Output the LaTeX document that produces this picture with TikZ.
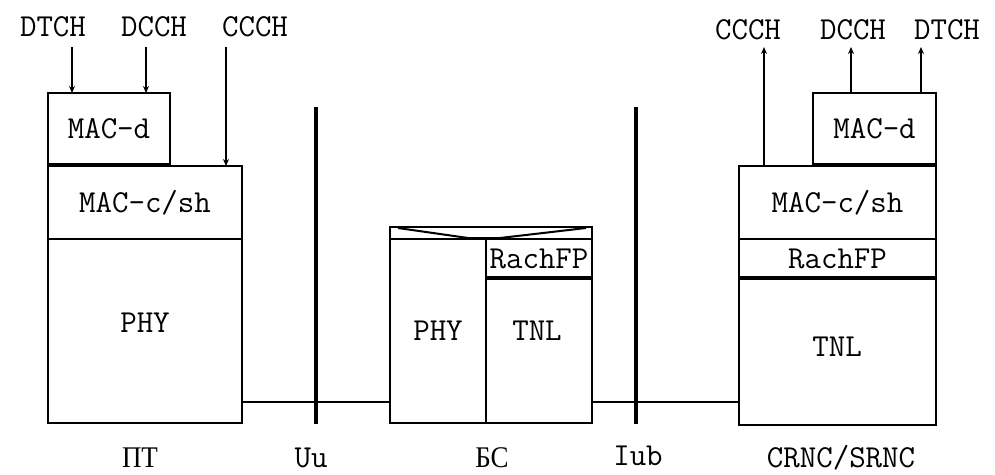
\documentclass[tikz,border=0pt]{standalone}
\usepackage{fontspec}
\newfontfamily\cyrfont[FakeStretch=0.9]{Liberation Serif}
\usetikzlibrary{arrows.meta}
\tikzset{
    layer/.style={draw, line width=1.5pt, inner sep=0pt, outer sep=0pt, font=\ttfamily\fontsize{32}{32}\selectfont}, % one protocol layer
    sep line/.style={line width=3.5pt}, % thick border between layers
    iface/.style={line width=4pt}, % interface bar
    link/.style={line width=1.5pt},
    chan/.style={line width=1.5pt, -{Stealth[length=7pt, width=6pt]}},
    lbl/.style={font=\ttfamily\fontsize{32}{32}\selectfont, inner sep=0pt},
    cyr/.style={font=\cyrfont\fontsize{30}{30}\selectfont, inner sep=0pt}
}
\begin{document}
\begin{tikzpicture}[x=1pt, y=-1pt]
    \useasboundingbox[fill=white] (0,0) rectangle (995,474);

    % ПТ
    \node[layer, minimum width=122, minimum height=72] (macdL) at (109,129) {MAC-d};
    \node[layer, minimum width=194, minimum height=73] (macshL) at (145,202.5) {MAC-c/sh};
    \node[layer, minimum width=194, minimum height=184] (phyL) at (145,331) {};
    \node[lbl] (phyLtxt) at (145,323) {PHY};
    \draw[sep line] (macdL.south west) -- (macdL.south east);

    % БС
    \node[layer, minimum width=202, minimum height=12] (topB) at (491,233) {};
    \node[layer, minimum width=96, minimum height=184] (phyB) at (438,331) {PHY};
    \node[layer, minimum width=106, minimum height=39] (rachB) at (539,258.5) {RachFP};
    \node[layer, minimum width=106, minimum height=145] (tnlB) at (539,350.5) {};
    \node[lbl] (tnlBtxt) at (537,331) {TNL};
    \draw[sep line] (rachB.south west) -- (rachB.south east);
    \draw[line width=2pt] (398,228) -- (468,238) -- (500,238) -- (586,228);

    % CRNC/SRNC
    \node[layer, minimum width=123, minimum height=72] (macdR) at (874.5,129) {MAC-d};
    \node[layer, minimum width=197, minimum height=73] (macshR) at (837.5,202.5) {MAC-c/sh};
    \node[layer, minimum width=197, minimum height=39] (rachR) at (837.5,258.5) {RachFP};
    \node[layer, minimum width=197, minimum height=147] (tnlR) at (837.5,351.5) {};
    \node[lbl] (tnlRtxt) at (837,347) {TNL};
    \draw[sep line] (macdR.south west) -- (macdR.south east);
    \draw[sep line] (rachR.south west) -- (rachR.south east);

    % interfaces and links
    \coordinate (uuTop) at (316,107); \coordinate (uuBot) at (316,424);
    \coordinate (iubTop) at (636,107); \coordinate (iubBot) at (636,424);
    \coordinate (lvl) at (0,402);
    \draw[iface] (uuTop) -- (uuBot);
    \draw[iface] (iubTop) -- (iubBot);
    \draw[link] (phyL.east |- lvl) -- (phyB.west |- lvl);
    \draw[link] (tnlB.east |- lvl) -- (tnlR.west |- lvl);

    % logical channels
    \node[lbl] (dtchL) at (53,27) {DTCH};
    \node[lbl] (dcchL) at (154,27) {DCCH};
    \node[lbl] (ccchL) at (255,27) {CCCH};
    \node[lbl] (ccchR) at (748,30) {CCCH};
    \node[lbl] (dcchR) at (853,30) {DCCH};
    \node[lbl] (dtchR) at (947,30) {DTCH};
    \coordinate (a1) at (72,47); \coordinate (a2) at (146,47); \coordinate (a3) at (226,47);
    \coordinate (b1) at (764,47); \coordinate (b2) at (851,47); \coordinate (b3) at (921,47);
    \draw[chan] (a1) -- (a1 |- macdL.north);
    \draw[chan] (a2) -- (a2 |- macdL.north);
    \draw[chan] (a3) -- (a3 |- macshL.north);
    \draw[chan] (b1 |- macshR.north) -- (b1);
    \draw[chan] (b2 |- macdR.north) -- (b2);
    \draw[chan] (b3 |- macdR.north) -- (b3);

    % names
    \node[cyr] (ue) at (140,458) {ПТ};
    \node[lbl] (uu) at (311,458) {Uu};
    \node[cyr] (bs) at (492,458) {БС};
    \node[lbl] (iub) at (638,456) {Iub};
    \node[lbl] (rnc) at (841,458) {CRNC/SRNC};
\end{tikzpicture}
\end{document}
